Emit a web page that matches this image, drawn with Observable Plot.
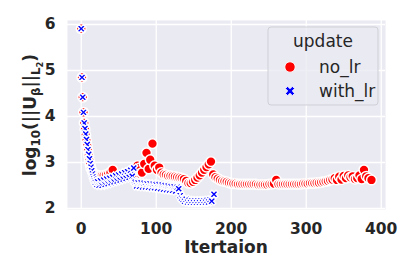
<!DOCTYPE html>
<html>
<head>
<meta charset="utf-8">
<script src="https://cdn.jsdelivr.net/npm/d3@7"></script>
<script src="https://cdn.jsdelivr.net/npm/@observablehq/plot@0.6"></script>
<style>
  html, body { margin: 0; padding: 0; background: white; }
  #chart svg { display: block; }
</style>
</head>
<body>
<div id="chart"></div>
<script>
// ---- data ----
const seriesNames = ["no_lr", "with_lr"];
const xTicks = [0, 100, 200, 300, 400];
const yTicks = [2, 3, 4, 5, 6];
const xTitle = "Itertaion";
const legendTitle = "update";

const noLrIter = [0,1,2,3,4,5,6,7,8,9,10,11,12,13,15,18,21,24,27,30,33,36,39,42,
  45,48,51,54,57,60,63,66,69,72,75,78,81,84,87,90,92,95,98,101,104,107,110,113,116,119,
  122,125,128,131,134,137,140,143,146,149,152,155,158,161,164,167,170,173,176,179,182,185,
  188,191,194,197,200,203,206,209,212,215,218,221,224,227,230,233,236,239,242,245,248,251,
  254,257,260,263,266,269,272,275,278,281,284,287,290,293,296,299,302,305,308,311,314,317,
  320,323,326,329,332,335,338,341,344,347,350,353,356,359,362,365,368,371,374,377,380,383,387];
const noLrValue = [5.91,4.85,4.42,4.09,3.86,3.72,3.59,3.47,3.36,3.25,3.14,3.04,2.95,2.87,2.80,2.75,2.72,2.71,2.71,2.72,2.73,2.75,2.78,2.84,
  2.62,2.63,2.65,2.67,2.70,2.73,2.76,2.80,2.85,2.62,2.93,2.88,2.78,2.97,3.21,2.86,3.06,3.41,2.93,2.84,2.89,2.78,2.74,2.73,2.71,2.71,
  2.70,2.69,2.68,2.67,2.66,2.64,2.60,2.55,2.55,2.58,2.62,2.67,2.72,2.78,2.84,2.90,2.96,3.02,2.74,2.68,2.65,2.62,
  2.60,2.59,2.58,2.56,2.55,2.54,2.54,2.53,2.53,2.53,2.53,2.53,2.53,2.53,2.53,2.53,2.52,2.52,2.52,2.52,2.52,2.53,
  2.53,2.54,2.62,2.53,2.53,2.53,2.53,2.53,2.53,2.53,2.53,2.53,2.53,2.53,2.54,2.54,2.54,2.55,2.55,2.55,2.56,2.56,
  2.57,2.58,2.59,2.60,2.62,2.63,2.66,2.62,2.69,2.63,2.71,2.66,2.72,2.68,2.70,2.64,2.66,2.72,2.64,2.84,2.70,2.66,2.62];

const withLrIter = [0,1,2,3,4,5,6,7,8,9,10,11,12,13,14,15,16,17,18,19,21,22,24,26,28,30,32,34,36,38,40,
  42,44,46,48,50,52,54,56,58,60,62,64,66,68,70,71,
  72,74,76,78,80,82,84,86,88,90,92,94,96,98,100,102,104,106,108,110,112,114,116,118,120,122,124,126,128,130,
  132,134,136,138,140,142,144,146,148,150,152,154,156,158,160,162,164,166,168,170,172,174,177];
const withLrValue = [5.91,4.85,4.42,4.09,3.86,3.74,3.62,3.50,3.39,3.28,3.18,3.08,2.98,2.90,2.82,2.75,2.69,2.64,2.60,2.57,2.52,2.58,2.50,2.60,2.50,2.62,2.52,2.64,2.54,2.66,2.56,
  2.68,2.58,2.71,2.60,2.73,2.62,2.75,2.64,2.78,2.66,2.80,2.68,2.83,2.70,2.88,2.60,
  2.57,2.49,2.56,2.48,2.56,2.47,2.55,2.47,2.54,2.46,2.54,2.45,2.53,2.45,2.52,2.44,2.52,2.43,2.51,2.42,2.50,2.41,2.49,2.40,2.48,2.39,2.47,2.38,2.46,2.43,
  2.28,2.22,2.19,2.16,2.20,2.14,2.18,2.13,2.17,2.13,2.17,2.13,2.17,2.13,2.17,2.13,2.17,2.14,2.18,2.14,2.19,2.16,2.31];

// ---- tables built from the arrays ----
const noLrRows = noLrIter.map((it, i) => ({iter: it, value: noLrValue[i], update: seriesNames[0]}));
const withLrRows = withLrIter.map((it, i) => ({iter: it, value: withLrValue[i], update: seriesNames[1]}));

// filled "X" marker (like matplotlib's 'X')
const xSymbol = {
  draw(context, size) {
    const r = Math.sqrt(size / Math.PI);
    const w = r * 0.32;
    const pts = [[w,w],[w,r],[-w,r],[-w,w],[-r,w],[-r,-w],[-w,-w],[-w,-r],[w,-r],[w,-w],[r,-w],[r,w]];
    const c = Math.SQRT1_2;
    pts.forEach(([px, py], i) => {
      const x = (px - py) * c, y = (px + py) * c;
      if (i === 0) context.moveTo(x, y); else context.lineTo(x, y);
    });
    context.closePath();
  }
};

const colors = {no_lr: "#ff0000", with_lr: "#0000ff"};
const font = "DejaVu Sans";

const chart = Plot.plot({
  width: 415,
  height: 277,
  marginLeft: 67,
  marginRight: 30,
  marginTop: 20,
  marginBottom: 68,
  style: {fontFamily: font, background: "white", color: "#262626"},
  x: {domain: [-18.3, 405.7]},
  y: {domain: [1.978, 6.087]},
  marks: [
    Plot.frame({fill: "#EAEAF2"}),
    Plot.gridX(xTicks, {stroke: "white", strokeOpacity: 1, strokeWidth: 1.3}),
    Plot.gridY(yTicks, {stroke: "white", strokeOpacity: 1, strokeWidth: 1.3}),
    Plot.axisX(xTicks, {tickSize: 0, tickPadding: 13, fontSize: 15.5, fontWeight: "bold", fill: "#262626", label: null}),
    Plot.axisY(yTicks, {tickSize: 0, tickPadding: 12, fontSize: 15.5, fontWeight: "bold", fill: "#262626", label: null}),
    Plot.dot(noLrRows, {x: "iter", y: "value", r: 4.9, fill: colors.no_lr, stroke: "white", strokeWidth: 1.5}),
    Plot.dot(withLrRows, {x: "iter", y: "value", r: 4.3, symbol: xSymbol, fill: colors.with_lr, stroke: "white", strokeWidth: 1.4})
  ]
});

document.getElementById("chart").appendChild(chart);

// ---- axis titles and legend ----
const svg = d3.select(chart);

svg.append("text")
  .attr("x", 226).attr("y", 253)
  .attr("text-anchor", "middle")
  .attr("font-family", font).attr("font-size", 17).attr("font-weight", "bold")
  .attr("fill", "#262626")
  .text(xTitle);

const yl = svg.append("text")
  .attr("transform", "translate(36,115) rotate(-90)")
  .attr("text-anchor", "middle")
  .attr("font-family", font).attr("font-size", 17).attr("font-weight", "bold")
  .attr("fill", "#262626");
yl.append("tspan").text("log");
yl.append("tspan").attr("font-size", 11.9).attr("dy", 3.5).text("10");
yl.append("tspan").attr("dy", -3.5).text("(||U");
yl.append("tspan").attr("font-size", 11.9).attr("dy", 3.5).text("β");
yl.append("tspan").attr("dy", -3.5).text("||");
yl.append("tspan").attr("font-size", 11.9).attr("dy", 4).text("L");
yl.append("tspan").attr("font-size", 8.3).attr("dy", 2.5).text("2");
yl.append("tspan").attr("dy", -6.5).text(")");

const lg = svg.append("g").attr("font-family", font).attr("fill", "#262626").attr("text-anchor", "start");
lg.append("rect")
  .attr("x", 268).attr("y", 27).attr("width", 110).attr("height", 78)
  .attr("rx", 3).attr("fill", "#EAEAF2").attr("fill-opacity", 0.8)
  .attr("stroke", "#cfcfd6").attr("stroke-width", 1);
lg.append("text").attr("x", 323).attr("y", 47).attr("text-anchor", "middle")
  .attr("font-size", 17).text(legendTitle);
seriesNames.forEach((name, i) => {
  const cy = 67 + i * 24;
  if (name === "no_lr") {
    lg.append("circle").attr("cx", 290).attr("cy", cy).attr("r", 5.2)
      .attr("fill", colors.no_lr).attr("stroke", "white").attr("stroke-width", 0.9);
  } else {
    lg.append("path").attr("transform", `translate(290,${cy})`)
      .attr("d", d3.symbol(xSymbol, Math.PI * 5 * 5)())
      .attr("fill", colors.with_lr).attr("stroke", "white").attr("stroke-width", 0.9);
  }
  lg.append("text").attr("x", 319).attr("y", cy + 6).attr("text-anchor", "start")
    .attr("font-size", 17).text(name);
});
</script>
</body>
</html>
